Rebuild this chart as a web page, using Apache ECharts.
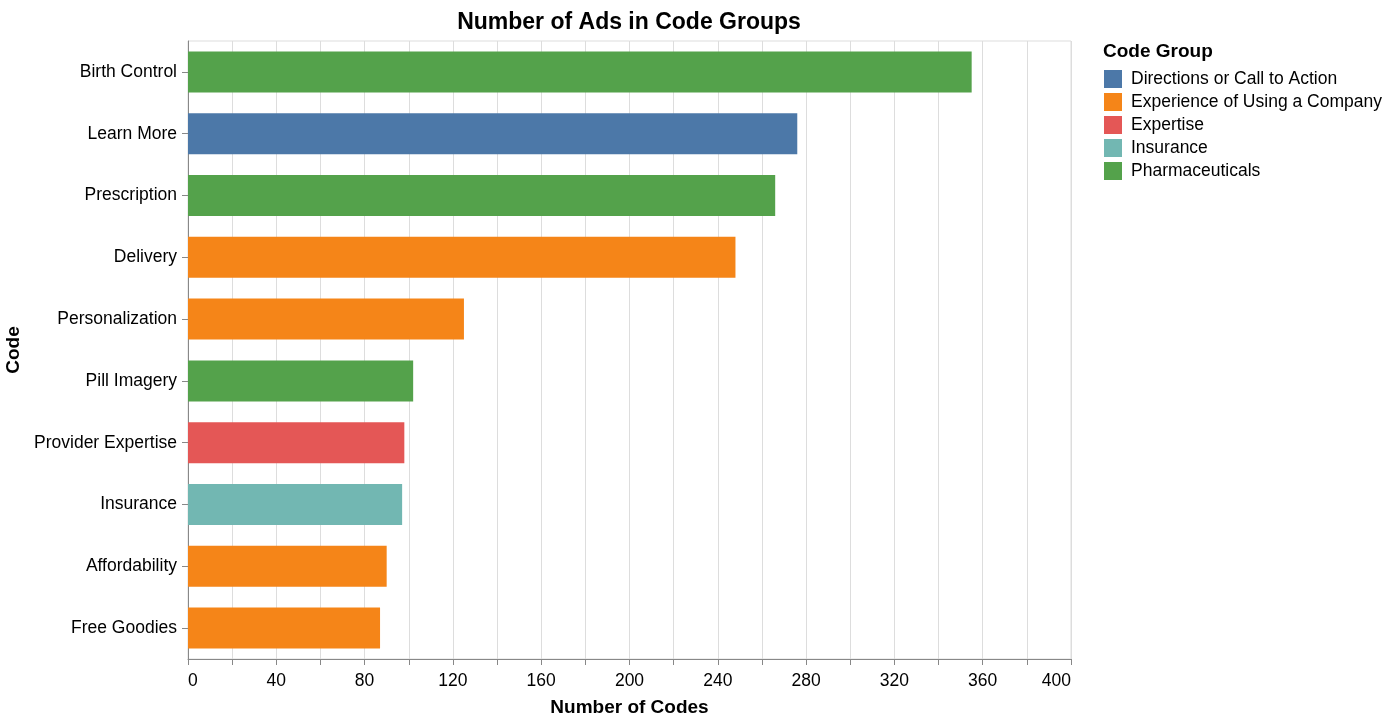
<!DOCTYPE html>
<html><head><meta charset="utf-8">
<script src="https://cdn.jsdelivr.net/npm/echarts@6/dist/echarts.min.js"></script>
<style>html,body{margin:0;padding:0;background:#fff}#c{width:1400px;height:716px}</style>
</head><body><div id="c"></div>
<script>
const categories = ["Birth Control","Learn More","Prescription","Delivery","Personalization","Pill Imagery","Provider Expertise","Insurance","Affordability","Free Goodies"];
const values = [355, 276, 266, 248, 125, 102, 98, 97, 90, 87];
const groupOf = ["Pharmaceuticals","Directions or Call to Action","Pharmaceuticals","Experience of Using a Company","Experience of Using a Company","Pharmaceuticals","Expertise","Insurance","Experience of Using a Company","Experience of Using a Company"];
const groups = ["Directions or Call to Action","Experience of Using a Company","Expertise","Insurance","Pharmaceuticals"];
const groupColors = ["#4c78a8","#f58518","#e45756","#72b7b2","#54a24b"];
const xTicks = [0,40,80,120,160,200,240,280,320,360,400];

const FONT = '"Liberation Sans", Arial, Helvetica, sans-serif';
const series = groups.map((g, gi) => ({
  name: g,
  type: 'bar',
  stack: 'all',
  barWidth: 41,
  itemStyle: { color: groupColors[gi] },
  data: values.map((v, i) => groupOf[i] === g ? v : '-')
}));

const chart = echarts.init(document.getElementById('c'));
chart.setOption({
  animation: false,
  textStyle: { fontFamily: FONT },
  title: [
    { text: 'Number of Ads in Code Groups', left: 624, top: 6, textAlign: 'center',
      textStyle: { fontFamily: FONT, fontSize: 23, fontWeight: 'bold', color: '#000' } },
    { text: 'Code Group', left: 1098, top: 37,
      textStyle: { fontFamily: FONT, fontSize: 19, fontWeight: 'bold', color: '#000' } }
  ],
  legend: {
    orient: 'vertical', left: 1099, top: 65, itemWidth: 18, itemHeight: 18, itemGap: 5,
    icon: 'rect', selectedMode: false,
    textStyle: { fontFamily: FONT, fontSize: 17.5, color: '#000', padding: [0,0,0,4] },
    data: groups
  },
  grid: { left: 188, right: 329, top: 41, bottom: 57, show: true, borderColor: '#ddd', borderWidth: 1, outerBoundsMode: 'none', containLabel: false },
  xAxis: {
    type: 'value', min: 0, max: 400, interval: 20,
    name: 'Number of Codes', nameLocation: 'middle', nameGap: 39,
    nameTextStyle: { fontFamily: FONT, fontSize: 19, fontWeight: 'bold', color: '#000' },
    axisLine: { show: true, lineStyle: { color: '#888' } },
    axisTick: { show: true, length: 6, lineStyle: { color: '#888' } },
    axisLabel: { fontFamily: FONT, fontSize: 17.5, color: '#000', margin: 13,
      alignMinLabel: 'left', alignMaxLabel: 'right',
      formatter: v => xTicks.includes(v) ? String(v) : '' },
    splitLine: { show: true, lineStyle: { color: '#ddd' } }
  },
  yAxis: {
    type: 'category', data: categories, inverse: true,
    name: 'Code', nameLocation: 'middle', nameGap: 157, nameRotate: 90,
    nameTextStyle: { fontFamily: FONT, fontSize: 19, fontWeight: 'bold', color: '#000' },
    axisLine: { show: true, lineStyle: { color: '#888' } },
    axisTick: { show: true, alignWithLabel: true, length: 6, lineStyle: { color: '#888' } },
    axisLabel: { fontFamily: FONT, fontSize: 17.5, color: '#000', margin: 11 },
    splitLine: { show: false }
  },
  series: series
});
</script></body></html>
